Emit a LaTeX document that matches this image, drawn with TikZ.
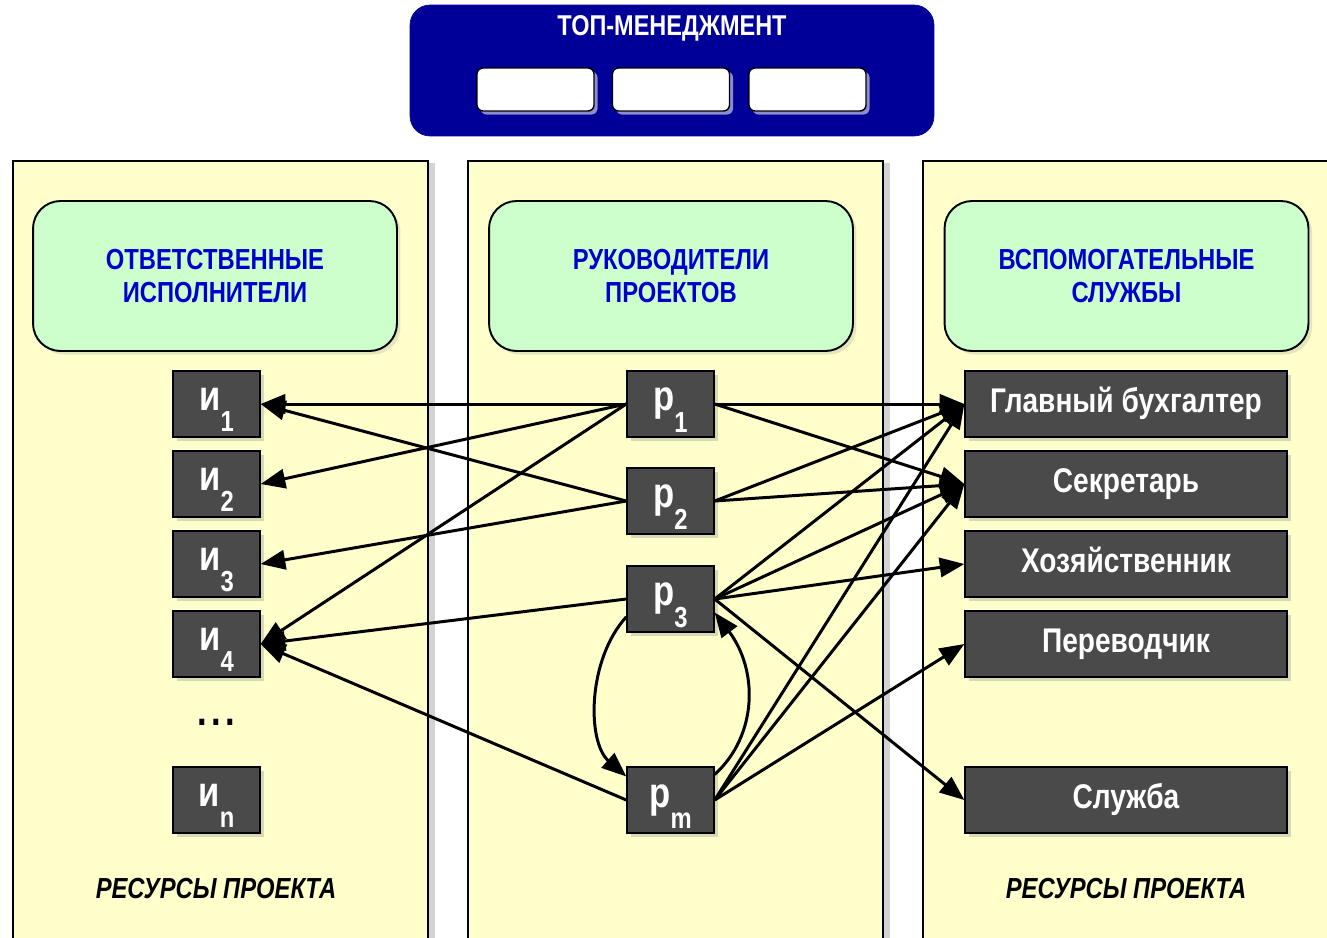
\documentclass[tikz,border=0pt]{standalone}
\usepackage{fontspec}
\setmainfont{Liberation Sans}
\newfontfamily\narrowsf[FakeStretch=0.82]{Liberation Sans}
\usetikzlibrary{%
    arrows.meta,
    shadows
}

\definecolor{panelyellow}{RGB}{255,255,204}
\definecolor{headgreen}{RGB}{204,255,204}
\definecolor{headblue}{RGB}{0,0,204}
\definecolor{topblue}{RGB}{0,0,153}
\definecolor{boxgray}{RGB}{74,74,74}

\newcommand{\Idx}[1]{\raisebox{-12pt}[0pt][5pt]{\fontsize{16.5}{16.5}\selectfont #1}}

\tikzset{
    panel/.style={draw, line width=.9pt, fill=panelyellow, anchor=north west,
                  minimum width=8.3cm, minimum height=16cm,
                  drop shadow={shadow xshift=4pt, shadow yshift=-1pt, opacity=.35}},
    header/.style={draw, line width=1.1pt, fill=headgreen, rounded corners=.55cm,
                   minimum width=7.28cm, minimum height=3cm, align=center,
                   text=headblue, font=\narrowsf\bfseries\fontsize{16.5}{19.3}\selectfont,
                   drop shadow={shadow xshift=2pt, shadow yshift=-2pt, opacity=.2}},
    darkbox/.style={draw, line width=.8pt, fill=boxgray, text=white,
                    minimum height=1.32cm, inner sep=0pt,
                    drop shadow={shadow xshift=2.5pt, shadow yshift=-2.5pt, opacity=.3}},
    idx/.style={darkbox, minimum width=1.74cm,
                font=\narrowsf\bfseries\fontsize{24}{24}\selectfont},
    service/.style={darkbox, minimum width=6.44cm, text height=14pt, text depth=4pt,
                    font=\narrowsf\bfseries\fontsize{19.5}{20}\selectfont},
    seat/.style={draw, line width=.8pt, fill=white, rounded corners=.12cm,
                 minimum width=2.34cm, minimum height=.86cm,
                 drop shadow={shadow xshift=2pt, shadow yshift=-2pt,
                              fill=white, opacity=.55}},
    resource/.style={font=\narrowsf\bfseries\itshape\fontsize{16.5}{18}\selectfont},
    link/.style={line width=1.7pt, -{Triangle[length=14pt, width=11pt]}}
}

\begin{document}
\begin{tikzpicture}[x=0.02cm, y=-0.02cm]
    \useasboundingbox (0,0) rectangle (1327,937);
    \clip (0,0) rectangle (1327,937);

    % top management
    \node[draw=topblue, fill=topblue, rounded corners=.4cm,
          minimum width=10.48cm, minimum height=2.62cm] (top) at (672,70.5) {};
    \node[text=white, font=\narrowsf\bfseries\fontsize{16.3}{18}\selectfont]
          (toptitle) at (672,28) {ТОП-МЕНЕДЖМЕНТ};
    \foreach \Name/\X in {seatA/535.5, seatB/671, seatC/807.5}
        \node[seat] (\Name) at (\X,89.5) {};

    % columns
    \foreach \Name/\X in {leftpanel/12, midpanel/467, rightpanel/922}
        \node[panel] (\Name) at (\X,160) {};

    \node[header] (leadhead) at (215,276)    {ОТВЕТСТВЕННЫЕ\\ИСПОЛНИТЕЛИ};
    \node[header] (mgrhead)  at (671,276)    {РУКОВОДИТЕЛИ\\ПРОЕКТОВ};
    \node[header] (servhead) at (1126.5,276) {ВСПОМОГАТЕЛЬНЫЕ\\СЛУЖБЫ};

    \foreach \Num/\Y in {1/404, 2/484, 3/564, 4/644, n/800}
        \node[idx] (i\Num) at (216.5,\Y) {и\Idx{\Num}};
    \node[font=\narrowsf\bfseries\fontsize{24}{24}\selectfont]
          (idots) at (216,722) {.\hspace{2.5pt}.\hspace{2.5pt}.};

    \foreach \Num/\Y in {1/404, 2/501, 3/599, m/800}
        \node[idx] (p\Num) at (670.5,\Y) {р\Idx{\Num}};

    \foreach \Name/\Y/\Text in {gb/404/Главный бухгалтер, sec/484/Секретарь,
                                hoz/564/Хозяйственник, per/644/Переводчик,
                                sl/800/Служба}
        \node[service] (\Name) at (1126,\Y) {\Text};

    \node[resource] (resleft)  at (216,889)  {РЕСУРСЫ ПРОЕКТА};
    \node[resource] (resright) at (1126,889) {РЕСУРСЫ ПРОЕКТА};

    % links
    \foreach \From/\To in {p1/i1, p1/i2, p1/i4, p2/i1, p2/i3, p3/i4, pm/i4}
        \draw[link] (\From.west) -- (\To.east);
    \foreach \From/\To in {p1/gb, p1/sec, p2/gb, p2/sec, p3/gb, p3/sec,
                           p3/hoz, p3/sl, pm/gb, pm/sec, pm/per}
        \draw[link] (\From.east) -- (\To.west);
    \draw[link] (p3.202) .. controls (587,660) and (587,742) .. (pm.152);
    \draw[link] (pm.30)  .. controls (758,735) and (758,670) .. (p3.-17);
\end{tikzpicture}
\end{document}
